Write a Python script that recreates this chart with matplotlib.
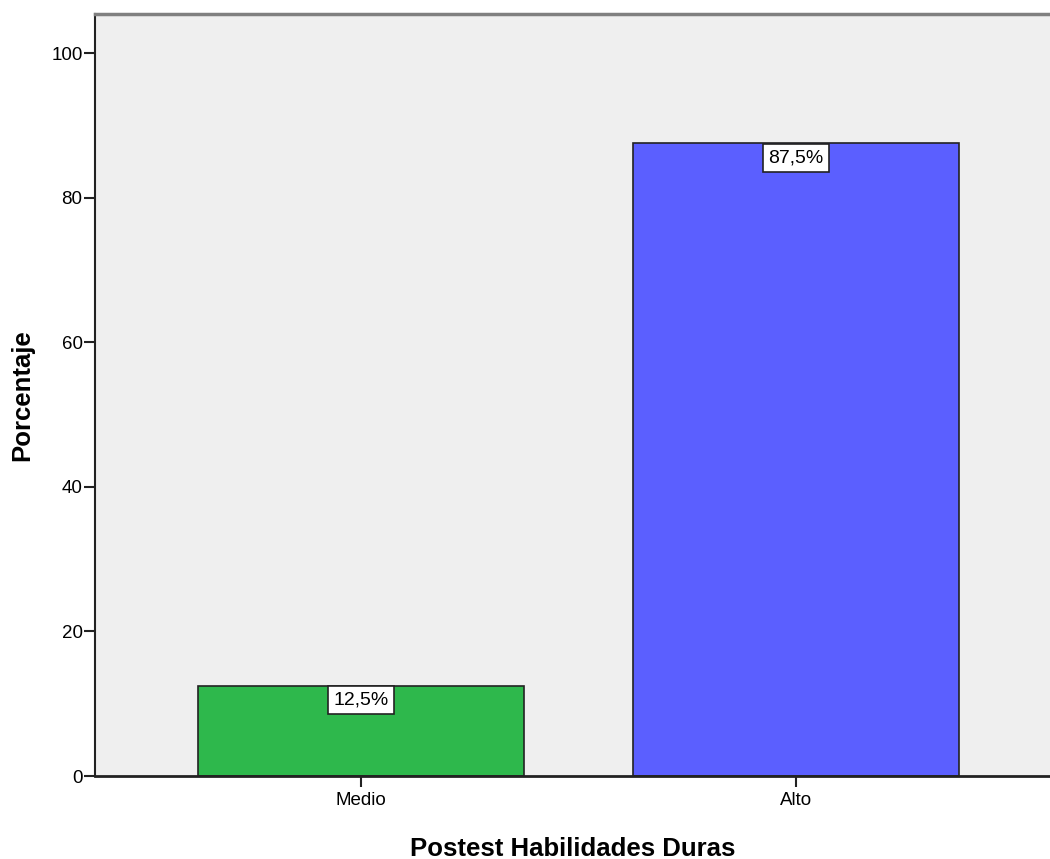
import matplotlib.pyplot as plt
import numpy as np

plt.rcParams['font.family'] = ['Liberation Sans', 'DejaVu Sans']

# datos
categorias = ['Medio', 'Alto']
porcentajes = [12.5, 87.5]
etiquetas = ['12,5%', '87,5%']
colores = ['#2eb84c', '#5b5fff']

fig = plt.figure(figsize=(10.5, 8.59), dpi=100)
ax = fig.add_axes([0.0905, 0.0966, 0.9095, 0.8871])
ax.set_facecolor('#efefef')

x = np.arange(len(categorias))
ax.bar(x, porcentajes, width=0.75, color=colores, edgecolor='#222222', linewidth=1.2, zorder=2)

for xi, v, t in zip(x, porcentajes, etiquetas):
    ax.annotate(t, (xi, v), xytext=(0, -4.5), textcoords='offset points',
                ha='center', va='top', fontsize=14, zorder=3,
                bbox=dict(boxstyle='square,pad=0.28', fc='white', ec='#222222', lw=1.2))

ax.set_xlim(-0.6115, 1.584)
ax.set_ylim(0, 105.4)
ax.set_yticks([0, 20, 40, 60, 80, 100])
ax.set_xticks(x)
ax.set_xticklabels(categorias)
ax.tick_params(axis='both', labelsize=13.5, width=1.5, length=8, color='#222222')
ax.tick_params(axis='y', pad=1)

ax.spines['right'].set_visible(False)
ax.spines['top'].set_color('#808080')
ax.spines['top'].set_linewidth(2.5)
ax.spines['left'].set_color('#222222')
ax.spines['left'].set_linewidth(1.5)
ax.spines['bottom'].set_color('#222222')
ax.spines['bottom'].set_linewidth(2)

ax.set_xlabel('Postest Habilidades Duras', fontsize=18.5, fontweight='bold', labelpad=20)
ax.set_ylabel('Porcentaje', fontsize=18.5, fontweight='bold', labelpad=12)

plt.savefig('out.png')
